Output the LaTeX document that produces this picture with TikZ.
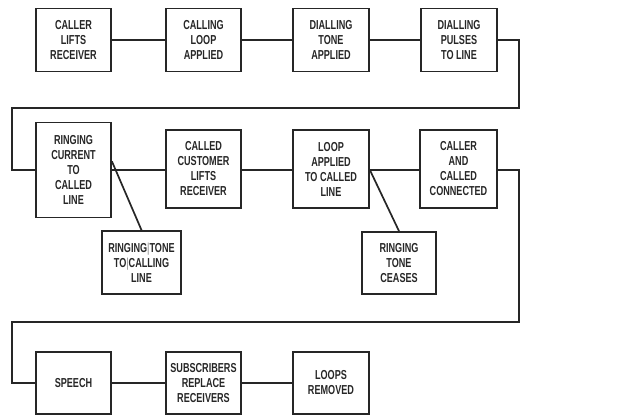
\documentclass[tikz,border=0pt]{standalone}
\usepackage{fontspec}
\setmainfont{Liberation Sans}[FakeStretch=0.7]
\usetikzlibrary{calc}
\definecolor{ink}{HTML}{262626}
\tikzset{
  box/.style={draw=ink, line width=1.8pt, align=center, inner sep=0pt,
    font=\fontsize{13}{15}\selectfont\bfseries, text=ink},
  wire/.style={draw=ink, line width=1.7pt},
}
\newcommand{\thinbar}{{\mdseries\color{gray}|}}
\begin{document}
\begin{tikzpicture}[x=1pt,y=-1pt]
\useasboundingbox (0,0) rectangle (624,415);
% row 1
\node[box, minimum width=75pt, minimum height=63pt] (b1) at (73.5,40) {CALLER\\LIFTS\\RECEIVER};
\node[box, minimum width=75pt, minimum height=63pt] (b2) at (203.5,40) {CALLING\\LOOP\\APPLIED};
\node[box, minimum width=76pt, minimum height=63pt] (b3) at (331,40) {DIALLING\\TONE\\APPLIED};
\node[box, minimum width=76pt, minimum height=63pt] (b4) at (459,40) {DIALLING\\PULSES\\TO LINE};
% row 2
\node[box, minimum width=75pt, minimum height=95pt] (b5) at (73.5,170) {RINGING\\CURRENT\\TO\\CALLED\\LINE};
\node[box, minimum width=75pt, minimum height=78pt] (b6) at (203.5,169) {CALLED\\CUSTOMER\\LIFTS\\RECEIVER};
\node[box, minimum width=76pt, minimum height=78pt] (b7) at (331,169) {LOOP\\APPLIED\\TO CALLED\\LINE};
\node[box, minimum width=77pt, minimum height=78pt] (b8) at (458.5,169) {CALLER\\AND\\CALLED\\CONNECTED};
\node[box, minimum width=79pt, minimum height=63pt] (b9) at (141.5,262.5) {RINGING\thinbar TONE\\TO\thinbar CALLING\\LINE};
\node[box, minimum width=74pt, minimum height=62pt] (b10) at (399,263) {RINGING\\TONE\\CEASES};
% row 3
\node[box, minimum width=75pt, minimum height=62pt] (b11) at (73.5,383) {SPEECH};
\node[box, minimum width=75pt, minimum height=62pt] (b12) at (203.5,383) {SUBSCRIBERS\\REPLACE\\RECEIVERS};
\node[box, minimum width=76pt, minimum height=62pt] (b13) at (331,383) {LOOPS\\REMOVED};
% turn points
\coordinate (t1) at (519,108);
\coordinate (t2) at (12,108);
\coordinate (t3) at (519,322);
\coordinate (t4) at (12,322);
% connectors
\draw[wire] (b1.east) -- (b2.west);
\draw[wire] (b2.east) -- (b3.west);
\draw[wire] (b3.east) -- (b4.west);
\draw[wire] (b4.east) -| (t1) -- (t2) |- (b5.west);
\draw[wire] (b5.east) -- (b6.west |- b5.east);
\draw[wire] (b6.east |- b5.east) -- (b7.west |- b5.east);
\draw[wire] (b7.east |- b5.east) -- (b8.west |- b5.east);
\draw[wire] (b8.east |- b5.east) -| (t3) -- (t4) |- (b11.west);
\draw[wire] ($(b5.north east)!0.41!(b5.south east)$) -- (b9.north);
\draw[wire] (b7.east |- b5.east) -- (b10.north);
\draw[wire] (b11.east) -- (b12.west);
\draw[wire] (b12.east) -- (b13.west);
\end{tikzpicture}
\end{document}
